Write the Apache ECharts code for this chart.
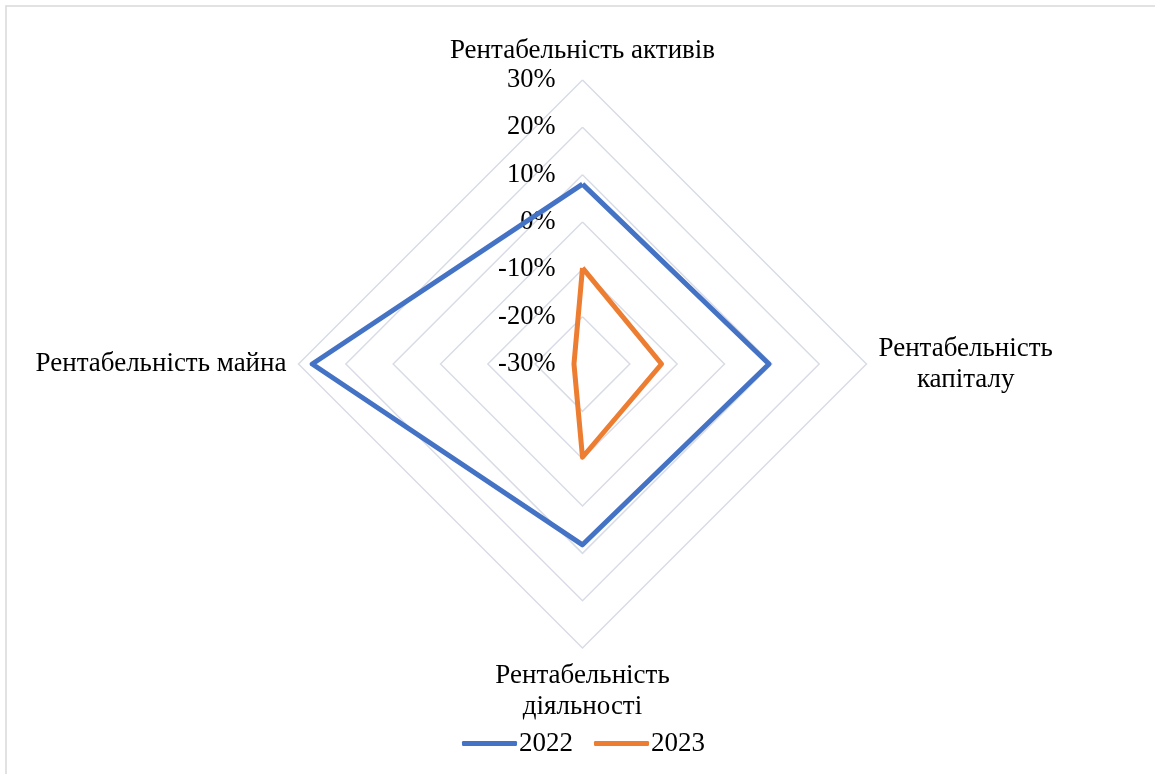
<!DOCTYPE html>
<html>
<head>
<meta charset="utf-8">
<script src="https://cdn.jsdelivr.net/npm/echarts@6/dist/echarts.min.js"></script>
<style>
  html, body { margin: 0; padding: 0; background: #fff; }
  #chart { width: 1155px; height: 774px; }
</style>
</head>
<body>
<div id="chart"></div>
<script>
// indicator names (Excel order: clockwise from top)
var indicators = ['Рентабельність активів', 'Рентабельність\nкапіталу', 'Рентабельність\nдіяльності', 'Рентабельність майна']
var values2022 = [8, 9.4, 8.2, 27.1]
var values2023 = [-9.7, -13.3, -10.3, -28.2]
var seriesNames = ['2022', '2023']

// echarts places indicators counter-clockwise, so reorder: top, left, bottom, right
var order = [0, 3, 2, 1]
function pick(arr) { return order.map(function (i) { return arr[i] }) }

var font = '"Liberation Serif", "Times New Roman", serif'

var myChart = echarts.init(document.getElementById('chart'))

var options = {
    animation: false,
    color: ['#4472C4', '#ED7D31'],
    graphic: [{
        type: 'rect',
        shape: { x: 6, y: 6, width: 1200, height: 800 },
        style: { fill: 'none', stroke: '#d9d9d9', lineWidth: 1.5 },
        silent: true
    }],
    legend: {
        data: seriesNames,
        bottom: 12,
        left: 457,
        icon: 'roundRect',
        itemWidth: 55,
        itemHeight: 5,
        itemGap: 21,
        textStyle: { fontFamily: font, fontSize: 27, color: '#000', padding: [0, 0, 0, -3] }
    },
    radar: {
        center: [582.5, 364],
        radius: 284,
        shape: 'polygon',
        splitNumber: 6,
        nameGap: 12,
        axisName: {
            color: '#000',
            fontFamily: font,
            fontSize: 27,
            lineHeight: 31,
            formatter: function (v) {
                return v.split('\n').map(function (s) { return '{c|' + s + '}' }).join('\n')
            },
            rich: {
                c: { align: 'center', fontFamily: font, fontSize: 27, lineHeight: 31, color: '#000' }
            }
        },
        axisLine: { show: false },
        axisTick: { show: false },
        splitArea: { show: false },
        splitLine: { lineStyle: { color: '#d9dce6', width: 1.5 } },
        axisLabel: {
            show: false,
            color: '#000',
            fontFamily: font,
            fontSize: 26.5,
            margin: 27,
            formatter: '{value}%'
        },
        indicator: pick(indicators).map(function (n, i) {
            var ind = { name: n, min: -30, max: 30 }
            if (i === 0) ind.axisLabel = { show: true }
            return ind
        })
    },
    series: [{
        type: 'radar',
        symbol: 'none',
        lineStyle: { width: 5 },
        data: [
            { name: seriesNames[0], value: pick(values2022), lineStyle: { width: 5, color: '#4472C4' } },
            { name: seriesNames[1], value: pick(values2023), lineStyle: { width: 5, color: '#ED7D31' } }
        ]
    }]
}

myChart.setOption(options)
</script>
</body>
</html>
